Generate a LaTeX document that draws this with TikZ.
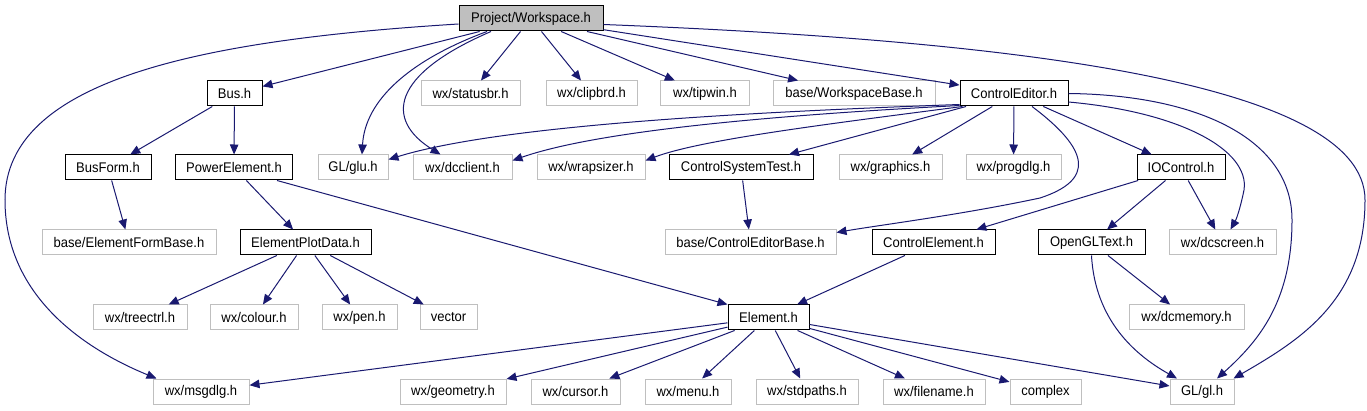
\documentclass[tikz,border=0pt]{standalone}
\usepackage{fontspec}
\newfontfamily\hfont{Liberation Sans}[FakeStretch=0.93]
\usetikzlibrary{arrows.meta}
\definecolor{edgeblue}{HTML}{191970}
\definecolor{boxgray}{HTML}{BFBFBF}
\begin{document}
\begin{tikzpicture}[x=1pt,y=-1pt,
  sysbox/.style={draw=boxgray, fill=white, line width=1pt, minimum height=25pt, inner sep=0pt,
    font=\hfont\fontsize{14}{16}\selectfont, text=black},
  locbox/.style={sysbox, draw=black},
  rootbox/.style={locbox, fill=boxgray},
  edge/.style={draw=edgeblue, line width=1pt, -{Triangle[length=10pt,width=8.5pt]}}]
\useasboundingbox (0,0) rectangle (1367,411);
% row 1
\node[rootbox, minimum width=144pt] (ws) at (531,18.5) {Project/Workspace.h};
% row 2
\node[locbox, minimum width=55pt] (bus) at (234.5,93.5) {Bus.h};
\node[sysbox, minimum width=99pt] (statusbr) at (470.5,93.5) {wx/statusbr.h};
\node[sysbox, minimum width=91pt] (clipbrd) at (591.5,93.5) {wx/clipbrd.h};
\node[sysbox, minimum width=89pt] (tipwin) at (705,93.5) {wx/tipwin.h};
\node[sysbox, minimum width=162pt] (wsbase) at (854,93.5) {base/WorkspaceBase.h};
\node[locbox, minimum width=108pt] (cedit) at (1014,93.5) {ControlEditor.h};
% row 3
\node[locbox, minimum width=86pt] (busform) at (108,167.5) {BusForm.h};
\node[locbox, minimum width=117pt] (powerel) at (234,167.5) {PowerElement.h};
\node[sysbox, minimum width=70pt] (glu) at (353,167.5) {GL/glu.h};
\node[sysbox, minimum width=99pt] (dcclient) at (462.5,167.5) {wx/dcclient.h};
\node[sysbox, minimum width=108pt] (wrapsizer) at (591,167.5) {wx/wrapsizer.h};
\node[locbox, minimum width=144pt] (cstest) at (741,167.5) {ControlSystemTest.h};
\node[sysbox, minimum width=103pt] (graphics) at (890.5,167.5) {wx/graphics.h};
\node[sysbox, minimum width=95pt] (progdlg) at (1013.5,167.5) {wx/progdlg.h};
\node[locbox, minimum width=88pt] (ioctrl) at (1181,167.5) {IOControl.h};
% row 4
\node[sysbox, minimum width=174pt] (efbase) at (129,242.5) {base/ElementFormBase.h};
\node[locbox, minimum width=131pt] (epd) at (305.5,242.5) {ElementPlotData.h};
\node[sysbox, minimum width=171pt] (cebase) at (750.5,242.5) {base/ControlEditorBase.h};
\node[locbox, minimum width=123pt] (celem) at (933.5,242.5) {ControlElement.h};
\node[locbox, minimum width=107pt] (ogl) at (1091.5,242.5) {OpenGLText.h};
\node[sysbox, minimum width=107pt] (dcscreen) at (1222.5,242.5) {wx/dcscreen.h};
% row 5
\node[sysbox, minimum width=94pt] (treectrl) at (140,317.5) {wx/treectrl.h};
\node[sysbox, minimum width=88pt] (colour) at (254,317.5) {wx/colour.h};
\node[sysbox, minimum width=75pt] (pen) at (359.5,317.5) {wx/pen.h};
\node[sysbox, minimum width=57pt] (vector) at (448.5,317.5) {vector};
\node[locbox, minimum width=81pt] (element) at (768.5,317.5) {Element.h};
\node[sysbox, minimum width=115pt] (dcmemory) at (1186.5,317.5) {wx/dcmemory.h};
% row 6
\node[sysbox, minimum width=96pt] (msgdlg) at (201,391.5) {wx/msgdlg.h};
\node[sysbox, minimum width=106pt] (geometry) at (453,391.5) {wx/geometry.h};
\node[sysbox, minimum width=89pt] (cursor) at (575.5,391.5) {wx/cursor.h};
\node[sysbox, minimum width=86pt] (menu) at (688,391.5) {wx/menu.h};
\node[sysbox, minimum width=102pt] (stdpaths) at (807,391.5) {wx/stdpaths.h};
\node[sysbox, minimum width=102pt] (filename) at (934,391.5) {wx/filename.h};
\node[sysbox, minimum width=71pt] (complex) at (1045.5,391.5) {complex};
\node[sysbox, minimum width=64pt] (gl) at (1202,391.5) {GL/gl.h};

% Workspace edges
\draw[edge] (ws) -- (bus);
\draw[edge] (ws) -- (statusbr);
\draw[edge] (ws) -- (clipbrd);
\draw[edge] (ws) -- (tipwin);
\draw[edge] (ws) -- (wsbase);
\draw[edge] (ws) -- (cedit);
\draw[edge] ([yshift=-5.5pt]ws.west) .. controls (200,40) and (5,80) .. (5,200)
  .. controls (5,290) and (75,345) .. ([xshift=4pt]msgdlg.north west);
\draw[edge] ([xshift=-44pt]ws.south) .. controls (410,60) and (365,100) .. ([xshift=9pt]glu.north);
\draw[edge] ([xshift=-40pt]ws.south) .. controls (390,75) and (385,120) .. ([xshift=-22pt]dcclient.north);
\draw[edge] ([yshift=-6pt]ws.east) .. controls (1000,40) and (1365,80) .. (1365,200)
  .. controls (1365,300) and (1300,340) .. ([xshift=-1pt]gl.north east);
% Bus edges
\draw[edge] (bus) -- (busform);
\draw[edge] (bus) -- (powerel);
\draw[edge] (busform) -- (efbase);
\draw[edge] (powerel) -- (epd);
\draw[edge] ([xshift=43pt]powerel.south) -- (element.north west);
\draw[edge] (epd) -- (treectrl);
\draw[edge] (epd) -- (colour);
\draw[edge] (epd) -- (pen);
\draw[edge] (epd) -- (vector);
% ControlEditor edges
\draw[edge] ([yshift=2pt]cedit.south west) .. controls (750,112) and (500,125) .. ([yshift=8pt]glu.east);
\draw[edge] ([yshift=1pt]cedit.south west) .. controls (780,115) and (600,130) .. ([yshift=7pt]dcclient.east);
\draw[edge] ([xshift=3pt]cedit.south west) .. controls (820,125) and (700,140) .. ([yshift=7pt]wrapsizer.east);
\draw[edge] (cedit) -- (cstest);
\draw[edge] (cedit) -- (graphics);
\draw[edge] (cedit) -- (progdlg);
\draw[edge] (cedit) -- (ioctrl);
\draw[edge] ([xshift=18pt]cedit.south) .. controls (1090,150) and (1095,180) .. (1040,198)
  .. controls (960,215) and (880,225) .. ([yshift=10pt]cebase.east);
\draw[edge] ([yshift=-8.5pt]cedit.east) .. controls (1180,112) and (1250,150) .. (1244,190)
  .. controls (1241,205) and (1237,218) .. ([xshift=8pt]dcscreen.north);
\draw[edge] (cedit.east) .. controls (1200,95) and (1292,140) .. (1292,220)
  .. controls (1292,300) and (1260,340) .. ([xshift=15pt]gl.north);
\draw[edge] (cstest) -- (cebase);
% IOControl edges
\draw[edge] (ioctrl) -- (celem);
\draw[edge] (ioctrl) -- (ogl);
\draw[edge] (ioctrl) -- (dcscreen);
\draw[edge] (celem) -- (element);
\draw[edge] (ogl) -- (dcmemory);
\draw[edge] (ogl.south) .. controls (1095,320) and (1135,355) .. ([xshift=-25pt]gl.north);
% Element edges
\draw[edge] (element) -- (msgdlg);
\draw[edge] (element) -- (geometry);
\draw[edge] (element) -- (cursor);
\draw[edge] (element) -- (menu);
\draw[edge] (element) -- (stdpaths);
\draw[edge] (element) -- (filename);
\draw[edge] (element) -- (complex);
\draw[edge] (element) -- (gl);
\end{tikzpicture}
\end{document}
